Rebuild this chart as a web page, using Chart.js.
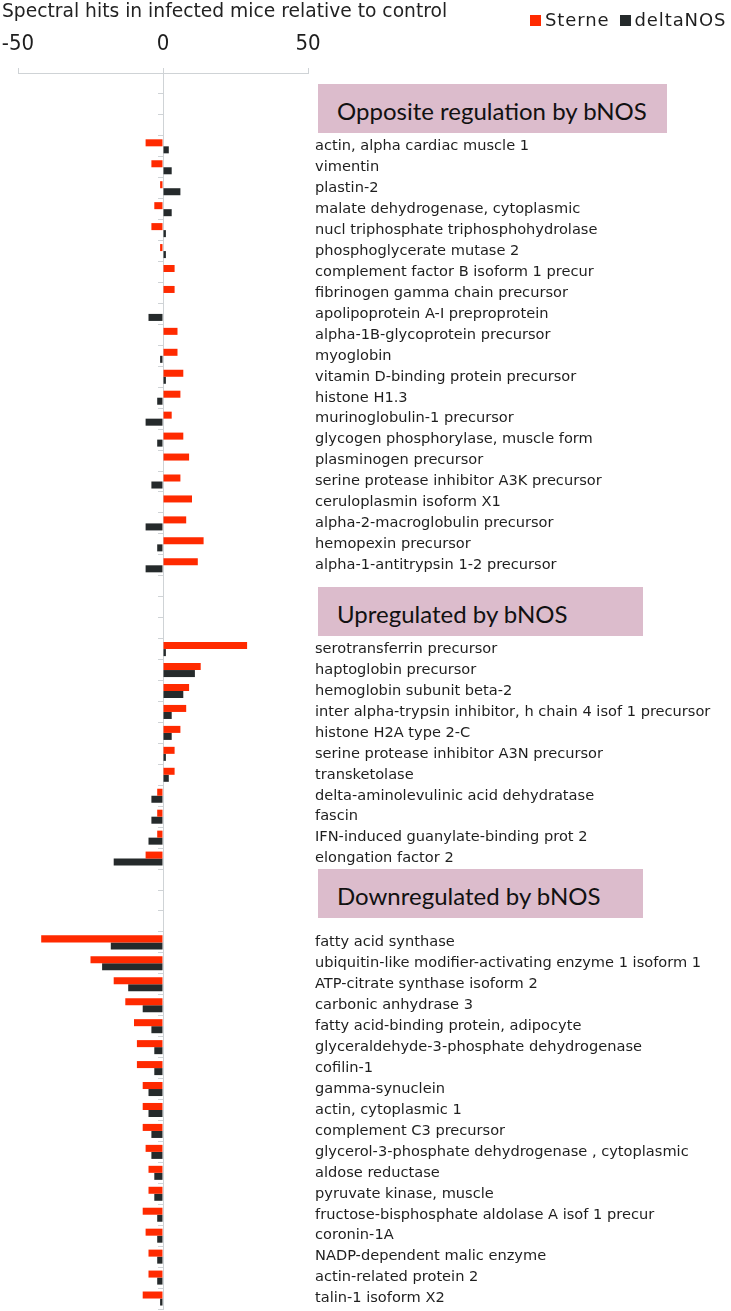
<!DOCTYPE html>
<html>
<head>
<meta charset="utf-8">
<script src="https://cdn.jsdelivr.net/npm/chart.js@4.4.1/dist/chart.umd.min.js"></script>
<style>
  html, body { margin: 0; padding: 0; background: #fff; }
  #wrap { position: relative; width: 731px; height: 1311px; overflow: hidden; }
  canvas { position: absolute; left: 0; top: 0; }
  .title { position: absolute; left: 2px; top: 2px; font: 18.7px "DejaVu Sans"; line-height: 18.7px; color: #222; white-space: nowrap; }
  .legend { position: absolute; left: 530px; top: 10px; font: 18px "DejaVu Sans"; line-height: 20px; color: #1e1e1e;
            white-space: nowrap; letter-spacing: 0.9px; display: flex; align-items: center; }
  .legend .sw { display: inline-block; width: 11px; height: 11px; margin-right: 4px; }
  .legend .item { display: flex; align-items: center; margin-right: 10px; }
  .hdr { position: absolute; left: 318px; height: 49px; background: #dcbccc; font: 24px "Lato"; color: #111;
         line-height: 49px; padding-left: 19px; box-sizing: border-box; white-space: nowrap; padding-top: 2px; }
</style>
</head>
<body>
<div id="wrap">
  <canvas id="c" width="731" height="1311"></canvas>
  <div class="title">Spectral hits in infected mice relative to control</div>
  <div class="legend" id="legend"></div>
  <div class="hdr" style="top:84px;width:349px;">Opposite regulation by bNOS</div>
  <div class="hdr" style="top:587px;width:325px;">Upregulated by bNOS</div>
  <div class="hdr" style="top:869px;width:325px;">Downregulated by bNOS</div>
</div>
<script>
// ---- data ----
const seriesNames = ["Sterne", "deltaNOS"];
const seriesColors = ["#ff2a00", "#252a2b"];
const xTicks = [-50, 0, 50];

const oppositeLabels = [
  "actin, alpha cardiac muscle 1", "vimentin", "plastin-2", "malate dehydrogenase, cytoplasmic",
  "nucl triphosphate triphosphohydrolase", "phosphoglycerate mutase 2", "complement factor B isoform 1 precur",
  "fibrinogen gamma chain precursor", "apolipoprotein A-I preproprotein", "alpha-1B-glycoprotein precursor",
  "myoglobin", "vitamin D-binding protein precursor", "histone H1.3", "murinoglobulin-1 precursor",
  "glycogen phosphorylase, muscle form", "plasminogen precursor", "serine protease inhibitor A3K precursor",
  "ceruloplasmin isoform X1", "alpha-2-macroglobulin precursor", "hemopexin precursor",
  "alpha-1-antitrypsin 1-2 precursor"
];
const oppositeSterne = [-6, -4, -1, -3, -4, -1, 4, 4, 0, 5, 5, 7, 6, 3, 7, 9, 6, 10, 8, 14, 12];
const oppositeDelta  = [2, 3, 6, 3, 1, 1, 0, 0, -5, 0, -1, 1, -2, -6, -2, 0, -4, 0, -6, -2, -6];

const upLabels = [
  "serotransferrin precursor", "haptoglobin precursor", "hemoglobin subunit beta-2",
  "inter alpha-trypsin inhibitor, h chain 4 isof 1 precursor", "histone H2A type 2-C",
  "serine protease inhibitor A3N precursor", "transketolase", "delta-aminolevulinic acid dehydratase",
  "fascin", "IFN-induced guanylate-binding prot 2", "elongation factor 2"
];
const upSterne = [29, 13, 9, 8, 6, 4, 4, -2, -2, -2, -6];
const upDelta  = [1, 11, 7, 3, 3, 1, 2, -4, -4, -5, -17];

const downLabels = [
  "fatty acid synthase", "ubiquitin-like modifier-activating enzyme 1 isoform 1", "ATP-citrate synthase isoform 2",
  "carbonic anhydrase 3", "fatty acid-binding protein, adipocyte", "glyceraldehyde-3-phosphate dehydrogenase",
  "cofilin-1", "gamma-synuclein", "actin, cytoplasmic 1", "complement C3 precursor",
  "glycerol-3-phosphate dehydrogenase , cytoplasmic", "aldose reductase", "pyruvate kinase, muscle",
  "fructose-bisphosphate aldolase A isof 1 precur", "coronin-1A", "NADP-dependent malic enzyme",
  "actin-related protein 2", "talin-1 isoform X2"
];
const downSterne = [-42, -25, -17, -13, -10, -9, -9, -7, -7, -7, -6, -5, -5, -7, -6, -5, -5, -7];
const downDelta  = [-18, -21, -12, -7, -4, -3, -3, -5, -5, -4, -4, -3, -3, -2, -2, -2, -2, -1];

// ---- build category rows (three blank rows before each section for the headers) ----
const blank = ["", "", ""];
const blankVals = [null, null, null];
const labels = [].concat(blank, oppositeLabels, blank, upLabels, blank, downLabels);
const sterne = [].concat(blankVals, oppositeSterne, blankVals, upSterne, blankVals, downSterne);
const delta  = [].concat(blankVals, oppositeDelta, blankVals, upDelta, blankVals, downDelta);

const axisGray = "#cfd3d6";
const textCol = "#1e1e1e";

// legend (HTML, built from series names / colours)
const lg = document.getElementById("legend");
seriesNames.forEach((n, i) => {
  const it = document.createElement("span"); it.className = "item";
  const sw = document.createElement("span"); sw.className = "sw"; sw.style.background = seriesColors[i];
  it.appendChild(sw); it.appendChild(document.createTextNode(n)); lg.appendChild(it);
});

new Chart(document.getElementById("c"), {
  type: "bar",
  data: {
    labels: labels,
    datasets: [
      { label: seriesNames[0], data: sterne, backgroundColor: seriesColors[0], borderWidth: 0,
        categoryPercentage: 0.67, barPercentage: 1.0 },
      { label: seriesNames[1], data: delta, backgroundColor: seriesColors[1], borderWidth: 0,
        categoryPercentage: 0.67, barPercentage: 1.0 }
    ]
  },
  options: {
    indexAxis: "y",
    responsive: false,
    animation: false,
    layout: { padding: { left: 18, right: 0, top: 29, bottom: 2 } },
    plugins: {
      legend: { display: false },
      tooltip: { enabled: false }
    },
    scales: {
      x: {
        type: "linear",
        position: "top",
        min: -50, max: 50,
        afterBuildTicks: (s) => { s.ticks = xTicks.map(v => ({ value: v })); },
        afterFit: (s) => { s.height = 44; s.paddingLeft = 0; s.paddingRight = 0; },
        ticks: { font: { family: "DejaVu Sans Condensed", size: 22 }, color: textCol, padding: 11 },
        grid: { drawOnChartArea: false, tickLength: 5, color: axisGray },
        border: { display: true, color: axisGray }
      },
      y: {
        type: "category",
        position: "right",
        offset: true,
        afterFit: (s) => { s.width = 423; s.paddingTop = 0; s.paddingBottom = 0; },
        grid: { display: false, drawTicks: false },
        border: { display: false },
        ticks: { font: { family: "DejaVu Sans", size: 14.6 }, color: textCol, padding: 7, autoSkip: false }
      },
      y2: {
        type: "category",
        position: { x: 0 },
        offset: true,
        afterFit: (s) => { s.paddingTop = 0; s.paddingBottom = 0; },
        grid: { offset: true, drawOnChartArea: false, tickLength: 5, color: axisGray },
        border: { display: true, color: axisGray },
        ticks: { display: false }
      }
    }
  }
});
</script>
</body>
</html>
